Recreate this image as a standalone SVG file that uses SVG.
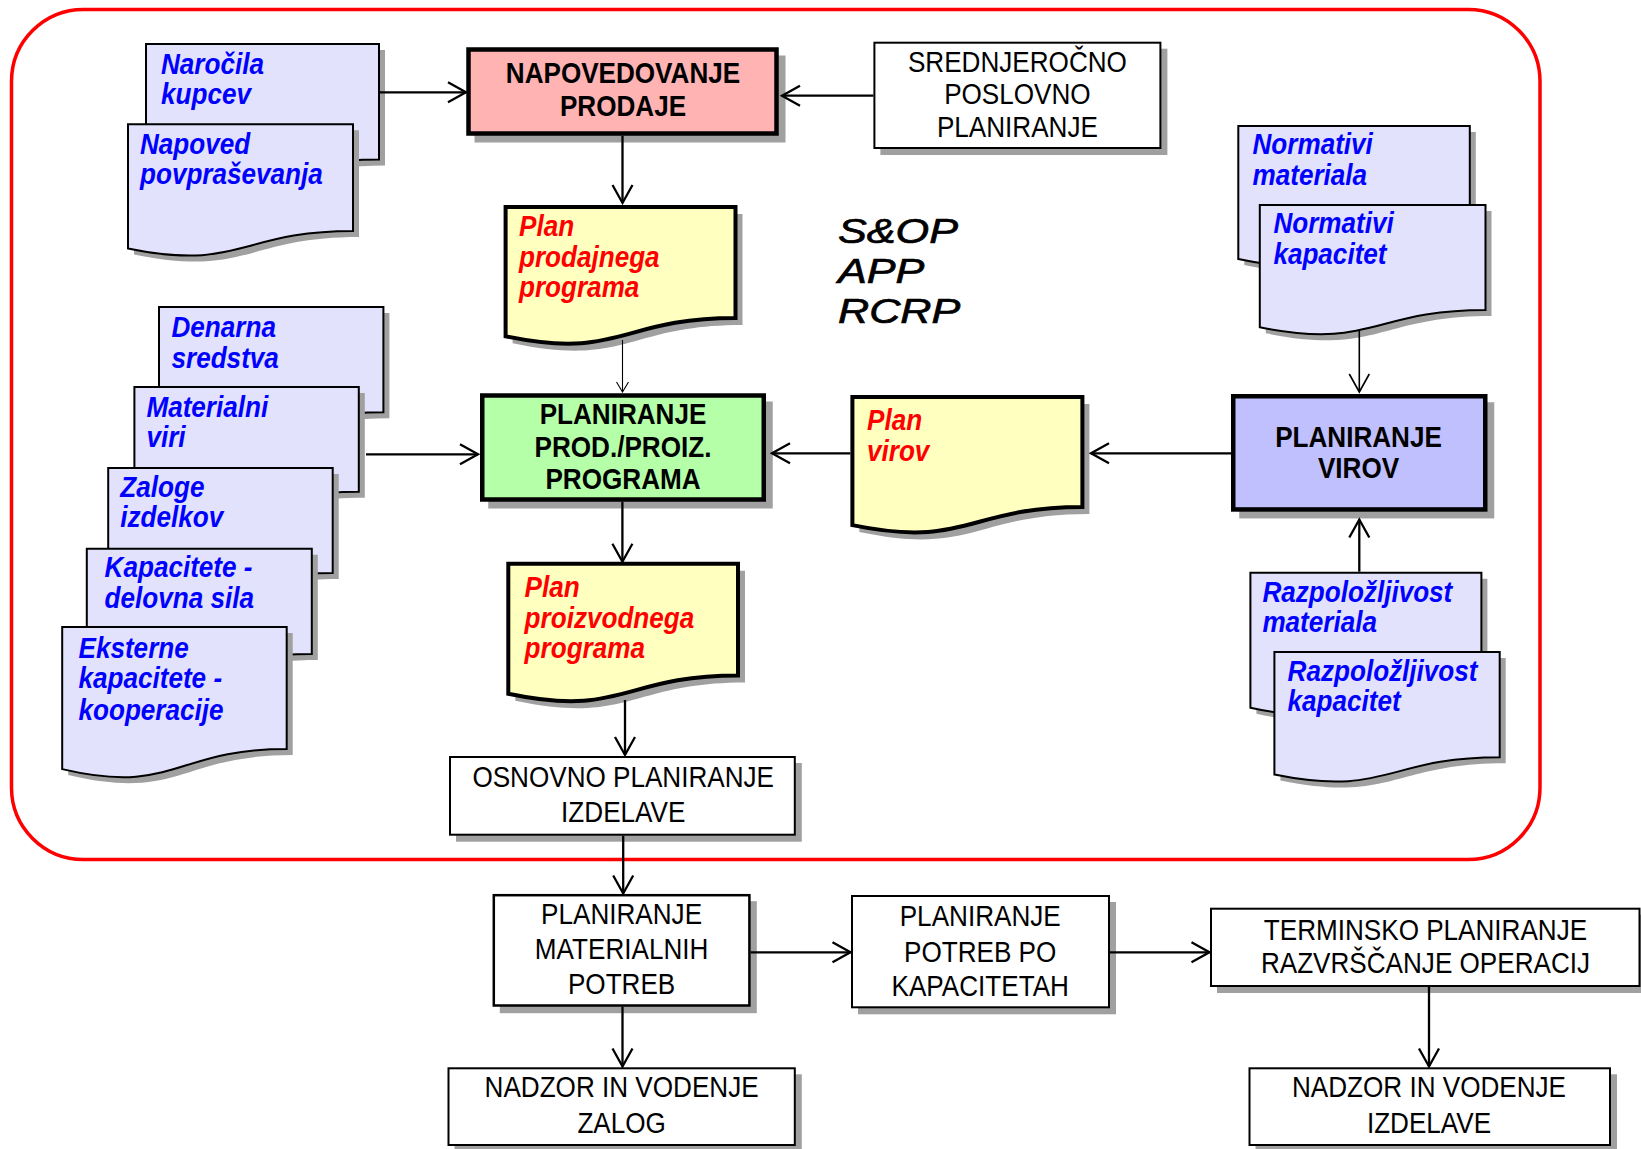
<svg xmlns="http://www.w3.org/2000/svg" xmlns:xlink="http://www.w3.org/1999/xlink" width="1641" height="1149" viewBox="0 0 1641 1149">
<style>
.sh{fill:#a0a0a0;stroke:none}
.docb{fill:#e2e2fd;stroke:#000;stroke-width:2}
.docy{fill:#ffffc0;stroke:#000;stroke-width:4}
.box{fill:#fff;stroke:#000;stroke-width:2}
.tbox{stroke:#000;stroke-width:4.5}
.t{font-family:"Liberation Sans",Arial,sans-serif;font-size:30px}
.bi{font-weight:bold;font-style:italic}
.blue{fill:#0000ff}
.red{fill:#ff0000}
.k{fill:#000}
.b{font-weight:bold}
.c{text-anchor:middle}
.cn{fill:none;stroke:#000;stroke-width:2.3}
</style>
<defs>
<marker id="ah" markerUnits="userSpaceOnUse" markerWidth="30" markerHeight="30" viewBox="-24 -15 30 30" refX="0" refY="0" orient="auto" style="overflow:visible"><path d="M-18,-10 L0,0 L-18,10" fill="none" stroke="#000" stroke-width="2.3"/></marker>
<marker id="ahm" markerUnits="userSpaceOnUse" markerWidth="30" markerHeight="30" viewBox="-24 -15 30 30" refX="0" refY="0" orient="auto" style="overflow:visible"><path d="M-18,-10 L0,0 L-18,10" fill="none" stroke="#000" stroke-width="1.6"/></marker>
<marker id="ahs" markerUnits="userSpaceOnUse" markerWidth="20" markerHeight="20" viewBox="-15 -10 20 20" refX="0" refY="0" orient="auto" style="overflow:visible"><path d="M-10,-6 L0,0 L-10,6" fill="none" stroke="#000" stroke-width="1.1"/></marker>
<path id="p-naro" d="M146 44 H379 V159.5 C262.5 159.5 262.5 203.5 146 178.5 Z"/>
<path id="p-napo" d="M128 124.3 H353 V231 C240.5 231 240.5 271.6 128 248.5 Z"/>
<path id="p-ppp" d="M505.6 207 H735.5 V318 C620.6 318 620.6 360.3 505.6 336.3 Z"/>
<path id="p-pproiz" d="M508.3 563.7 H738 V675.5 C623.2 675.5 623.2 718 508.3 693.8 Z"/>
<path id="p-pvir" d="M852.4 397 H1082.4 V507 C967.4 507 967.4 548.9 852.4 525.1 Z"/>
<path id="p-nmat" d="M1238.3 126 H1469.8 V240.3 C1354 240.3 1354 283.8 1238.3 259.1 Z"/>
<path id="p-nkap" d="M1259.8 205 H1485.5 V310 C1372.6 310 1372.6 350 1259.8 327.3 Z"/>
<path id="p-rmat" d="M1250.4 572.7 H1481.4 V688.7 C1365.9 688.7 1365.9 732.8 1250.4 707.7 Z"/>
<path id="p-rkap" d="M1274.4 652 H1499.7 V757.3 C1387 757.3 1387 797.4 1274.4 774.6 Z"/>
<path id="p-den" d="M159 307 H383.4 V412.3 C271.2 412.3 271.2 452.4 159 429.6 Z"/>
<path id="p-mat" d="M134.4 387 H358.8 V491.7 C246.6 491.7 246.6 531.5 134.4 508.9 Z"/>
<path id="p-zal" d="M108.2 468 H332.7 V573 C220.5 573 220.5 613 108.2 590.3 Z"/>
<path id="p-kap" d="M86.8 548.7 H311.8 V654 C199.3 654 199.3 694.1 86.8 671.3 Z"/>
<path id="p-eks" d="M62.2 627 H286.7 V749 C174.5 749 174.5 795.5 62.2 769.1 Z"/>
</defs>
<rect id="frame" x="11.5" y="9.5" width="1528.5" height="850" rx="72" ry="72" fill="none" stroke="#ff0000" stroke-width="3.5"/>
<g id="narocila">
<use xlink:href="#p-naro" class="sh" transform="translate(6 6)"/><use xlink:href="#p-naro" class="docb"/>
<g class="t bi blue" transform="translate(161 0) scale(0.87 1)"><text y="74">Naročila</text><text y="104">kupcev</text></g>
</g>
<g id="napoved">
<use xlink:href="#p-napo" class="sh" transform="translate(6 6)"/><use xlink:href="#p-napo" class="docb"/>
<g class="t bi blue" transform="translate(140 0) scale(0.87 1)"><text y="154">Napoved</text><text y="184">povpraševanja</text></g>
</g>
<g id="napovedovanje">
<rect class="sh" x="474.5" y="55.5" width="311" height="87"/>
<rect class="tbox" fill="#ffb3b3" x="468.5" y="49.5" width="308" height="84"/>
<g class="t b k c" transform="translate(623 0) scale(0.87 1)"><text y="83.3">NAPOVEDOVANJE</text><text y="116">PRODAJE</text></g>
</g>
<g id="srednjerocno">
<rect class="sh" x="880.4" y="48.7" width="287" height="106.3"/>
<rect class="box" x="874.4" y="42.7" width="286" height="105.3"/>
<g class="t k c" transform="translate(1017.4 0) scale(0.87 1)"><text y="71.7">SREDNJEROČNO</text><text y="104.3">POSLOVNO</text><text y="136.7">PLANIRANJE</text></g>
</g>
<g id="plan-prodajnega">
<use xlink:href="#p-ppp" class="sh" transform="translate(7 7)"/><use xlink:href="#p-ppp" class="docy"/>
<g class="t bi red" transform="translate(519 0) scale(0.87 1)"><text y="236.5">Plan</text><text y="266.7">prodajnega</text><text y="296.7">programa</text></g>
</g>
<g id="sop-label">
<g class="t k" style="font-style:italic;font-size:36px;stroke:#000;stroke-width:0.7" transform="translate(838 0) scale(1.2 1)"><text y="243">S&amp;OP</text><text y="283">APP</text><text y="323">RCRP</text></g>
</g>
<g id="normativi-materiala">
<use xlink:href="#p-nmat" class="sh" transform="translate(6 6)"/><use xlink:href="#p-nmat" class="docb"/>
<g class="t bi blue" transform="translate(1252.5 0) scale(0.87 1)"><text y="154">Normativi</text><text y="185">materiala</text></g>
</g>
<g id="normativi-kapacitet">
<use xlink:href="#p-nkap" class="sh" transform="translate(6 6)"/><use xlink:href="#p-nkap" class="docb"/>
<g class="t bi blue" transform="translate(1273.4 0) scale(0.87 1)"><text y="233">Normativi</text><text y="264">kapacitet</text></g>
</g>
<g id="denarna">
<use xlink:href="#p-den" class="sh" transform="translate(6 6)"/><use xlink:href="#p-den" class="docb"/>
<g class="t bi blue" transform="translate(171.5 0) scale(0.87 1)"><text y="336.7">Denarna</text><text y="367.7">sredstva</text></g>
</g>
<g id="materialni">
<use xlink:href="#p-mat" class="sh" transform="translate(6 6)"/><use xlink:href="#p-mat" class="docb"/>
<g class="t bi blue" transform="translate(146.4 0) scale(0.87 1)"><text y="416.7">Materialni</text><text y="446.7">viri</text></g>
</g>
<g id="zaloge">
<use xlink:href="#p-zal" class="sh" transform="translate(6 6)"/><use xlink:href="#p-zal" class="docb"/>
<g class="t bi blue" transform="translate(120.3 0) scale(0.87 1)"><text y="496.6">Zaloge</text><text y="527.5">izdelkov</text></g>
</g>
<g id="kapacitete">
<use xlink:href="#p-kap" class="sh" transform="translate(6 6)"/><use xlink:href="#p-kap" class="docb"/>
<g class="t bi blue" transform="translate(104.6 0) scale(0.87 1)"><text y="577.3">Kapacitete -</text><text y="608.3">delovna sila</text></g>
</g>
<g id="eksterne">
<use xlink:href="#p-eks" class="sh" transform="translate(6 6)"/><use xlink:href="#p-eks" class="docb"/>
<g class="t bi blue" transform="translate(78.5 0) scale(0.87 1)"><text y="658">Eksterne</text><text y="688.5">kapacitete -</text><text y="720">kooperacije</text></g>
</g>
<g id="planiranje-prod">
<rect class="sh" x="488.25" y="401.5" width="284.5" height="107"/>
<rect class="tbox" fill="#b4ffa8" x="482.25" y="395.5" width="281.5" height="104"/>
<g class="t b k c" transform="translate(623 0) scale(0.87 1)"><text y="424.3">PLANIRANJE</text><text y="456.7">PROD./PROIZ.</text><text y="489.3">PROGRAMA</text></g>
</g>
<g id="plan-virov">
<use xlink:href="#p-pvir" class="sh" transform="translate(7 7)"/><use xlink:href="#p-pvir" class="docy"/>
<g class="t bi red" transform="translate(867 0) scale(0.87 1)"><text y="430">Plan</text><text y="460.7">virov</text></g>
</g>
<g id="planiranje-virov">
<rect class="sh" x="1239.25" y="402.25" width="255" height="116.2"/>
<rect class="tbox" fill="#c0c0ff" x="1233.25" y="396.25" width="252" height="113.2"/>
<g class="t b k c" transform="translate(1358.5 0) scale(0.87 1)"><text y="446.7">PLANIRANJE</text><text y="478.3">VIROV</text></g>
</g>
<g id="razpolozljivost-materiala">
<use xlink:href="#p-rmat" class="sh" transform="translate(6 6)"/><use xlink:href="#p-rmat" class="docb"/>
<g class="t bi blue" transform="translate(1262.4 0) scale(0.87 1)"><text y="601.7">Razpoložljivost</text><text y="631.7">materiala</text></g>
</g>
<g id="razpolozljivost-kapacitet">
<use xlink:href="#p-rkap" class="sh" transform="translate(6 6)"/><use xlink:href="#p-rkap" class="docb"/>
<g class="t bi blue" transform="translate(1287.6 0) scale(0.87 1)"><text y="680.7">Razpoložljivost</text><text y="710.7">kapacitet</text></g>
</g>
<g id="plan-proizvodnega">
<use xlink:href="#p-pproiz" class="sh" transform="translate(7 7)"/><use xlink:href="#p-pproiz" class="docy"/>
<g class="t bi red" transform="translate(524.6 0) scale(0.87 1)"><text y="596.7">Plan</text><text y="628.3">proizvodnega</text><text y="658.3">programa</text></g>
</g>
<g id="osnovno">
<rect class="sh" x="456" y="763" width="345.8" height="78.7"/>
<rect class="box" x="450" y="757" width="344.8" height="77.7"/>
<g class="t k c" transform="translate(623.2 0) scale(0.87 1)"><text y="786.7">OSNOVNO PLANIRANJE</text><text y="821.7">IZDELAVE</text></g>
</g>
<g id="planiranje-materialnih">
<rect class="sh" x="499.8" y="901.2" width="257" height="112"/>
<rect class="box" style="stroke-width:2.5" x="493.8" y="895.2" width="255.6" height="110.3"/>
<g class="t k c" transform="translate(621.6 0) scale(0.87 1)"><text y="924">PLANIRANJE</text><text y="959.3">MATERIALNIH</text><text y="994">POTREB</text></g>
</g>
<g id="planiranje-kapacitet">
<rect class="sh" x="858" y="902" width="258" height="112.3"/>
<rect class="box" x="852" y="896" width="257" height="111.3"/>
<g class="t k c" transform="translate(980.2 0) scale(0.87 1)"><text y="925.7">PLANIRANJE</text><text y="961.7">POTREB PO</text><text y="995.7">KAPACITETAH</text></g>
</g>
<g id="terminsko">
<rect class="sh" x="1217" y="914.7" width="430" height="78.3"/>
<rect class="box" x="1211" y="908.7" width="428.5" height="77.3"/>
<g class="t k c" transform="translate(1425.5 0) scale(0.87 1)"><text y="940">TERMINSKO PLANIRANJE</text><text y="973.3">RAZVRŠČANJE OPERACIJ</text></g>
</g>
<g id="nadzor-zalog">
<rect class="sh" x="454.5" y="1074.3" width="347.3" height="77.7"/>
<rect class="box" x="448.5" y="1068.3" width="346.3" height="76.7"/>
<g class="t k c" transform="translate(621.6 0) scale(0.87 1)"><text y="1097.3">NADZOR IN VODENJE</text><text y="1132.7">ZALOG</text></g>
</g>
<g id="nadzor-izdelave">
<rect class="sh" x="1255.5" y="1074.3" width="361.5" height="77.7"/>
<rect class="box" x="1249.5" y="1068.3" width="360.5" height="76.7"/>
<g class="t k c" transform="translate(1429 0) scale(0.87 1)"><text y="1097.3">NADZOR IN VODENJE</text><text y="1132.7">IZDELAVE</text></g>
</g>
<g id="connectors">
<path class="cn" d="M379 92.3 H466" marker-end="url(#ah)"/>
<path class="cn" d="M873.4 95.7 H782" marker-end="url(#ah)"/>
<path class="cn" d="M622.5 135.75 V203" marker-end="url(#ah)"/>
<path class="cn" style="stroke-width:1.1" d="M622.5 340 V392" marker-end="url(#ahs)"/>
<path class="cn" d="M366 454.3 H478" marker-end="url(#ah)"/>
<path class="cn" d="M850.4 453.3 H772" marker-end="url(#ah)"/>
<path class="cn" d="M1231 453.3 H1091" marker-end="url(#ah)"/>
<path class="cn" style="stroke-width:1.6" d="M1359.3 331 V392" marker-end="url(#ahm)"/>
<path class="cn" d="M1359.3 571.7 V519.5" marker-end="url(#ah)"/>
<path class="cn" d="M622.4 501.7 V561.7" marker-end="url(#ah)"/>
<path class="cn" d="M625 700 V755" marker-end="url(#ah)"/>
<path class="cn" d="M623.2 835.7 V893.5" marker-end="url(#ah)"/>
<path class="cn" d="M622.5 1006.7 V1066.5" marker-end="url(#ah)"/>
<path class="cn" d="M750.6 952.3 H850.5" marker-end="url(#ah)"/>
<path class="cn" d="M1110 952.3 H1209.5" marker-end="url(#ah)"/>
<path class="cn" d="M1429 986 V1066.5" marker-end="url(#ah)"/>
</g>
</svg>
